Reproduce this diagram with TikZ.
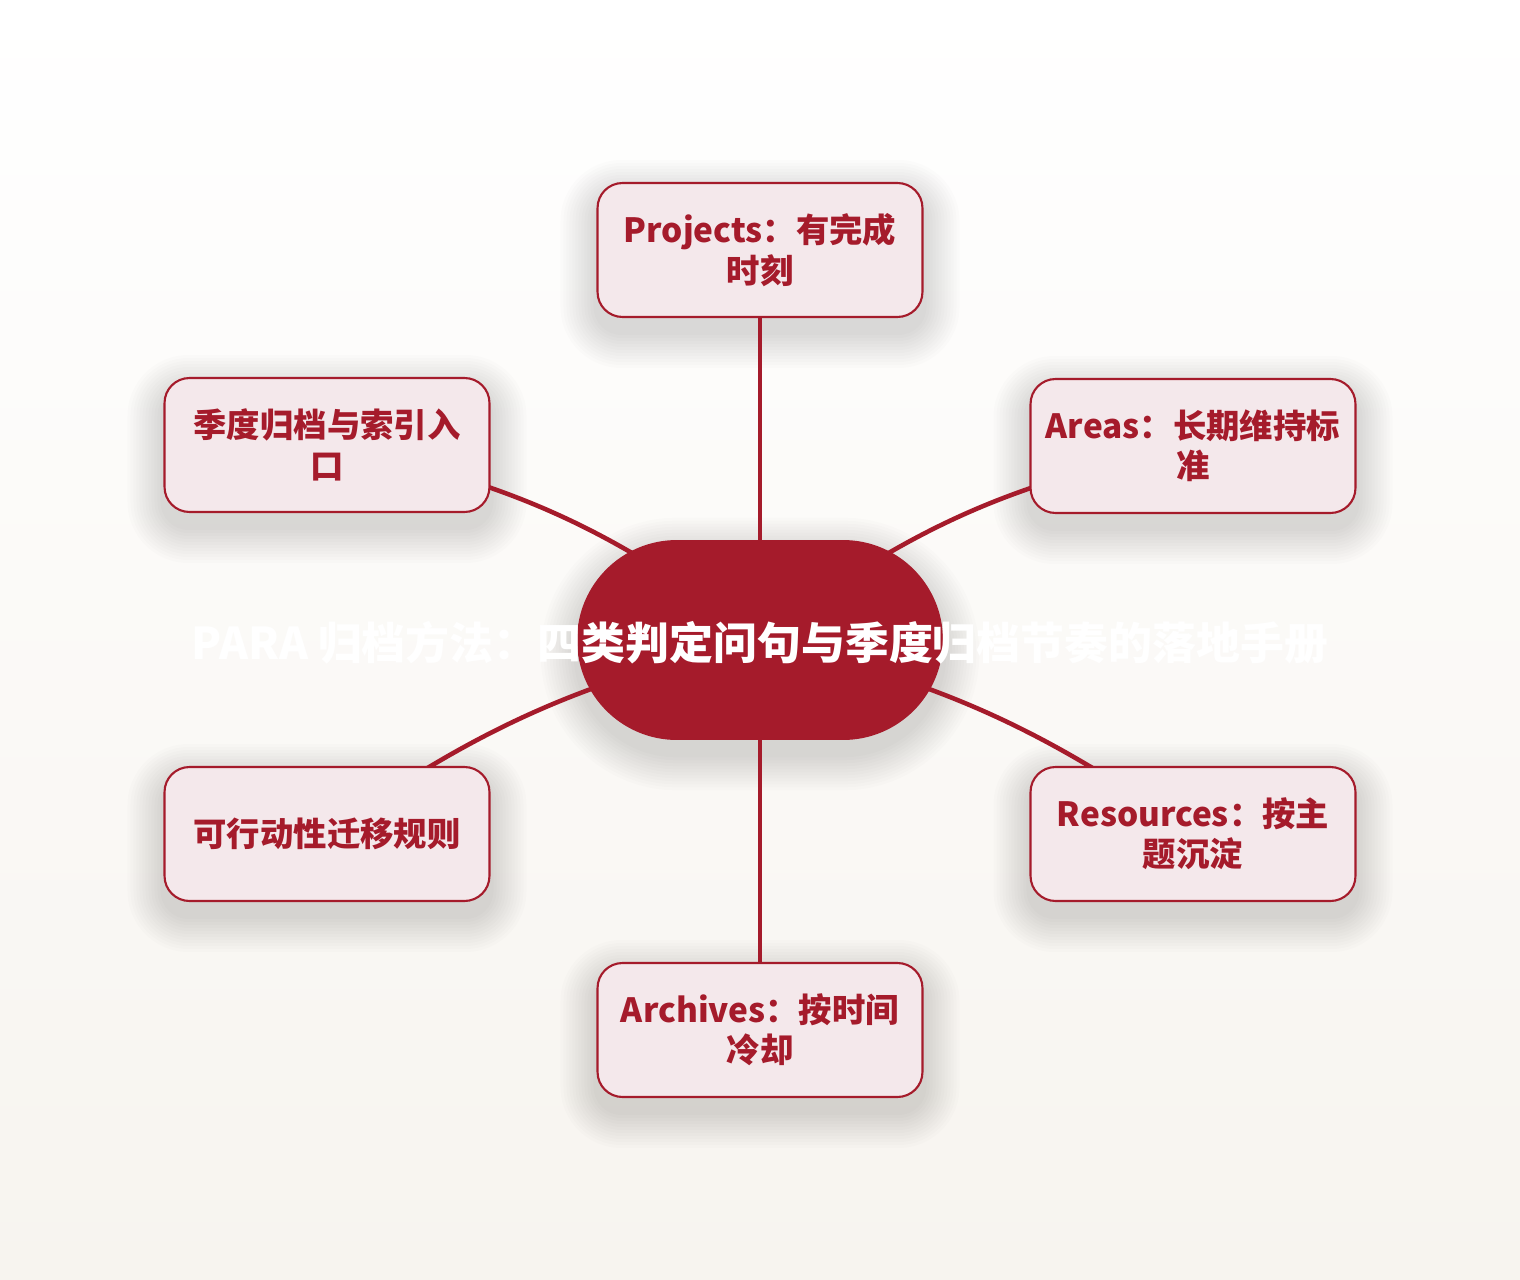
\documentclass[tikz,border=0pt]{standalone}
\usepackage{fontspec}
\newfontfamily\cjk{Noto Sans CJK SC}
\definecolor{parared}{RGB}{165,27,43}
\definecolor{parapink}{RGB}{244,232,235}
\definecolor{parabg}{RGB}{247,244,239}
\pgfdeclarelayer{back}
\pgfdeclarelayer{edges}
\pgfsetlayers{back,edges,main}
\tikzstyle{topic}=[rectangle, rounded corners=0.5cm, draw=parared, line width=1.2pt, fill=parapink, minimum width=6.5cm, minimum height=2.68cm, align=center, text=parared, font=\cjk\bfseries\fontsize{19}{23}\selectfont]
\tikzstyle{hub}=[rectangle, rounded corners=2cm, fill=parared, minimum width=7.32cm, minimum height=4cm]
\tikzstyle{link}=[draw=parared, line width=2.6pt]
\tikzstyle{haze}=[fill=black, opacity=0.013]
\newcommand{\topic}{\node[topic]}

\begin{document}
\begin{tikzpicture}[x=0.02cm, y=-0.02cm]
%background
\useasboundingbox (0,0) rectangle (1520,1280);
\begin{pgfonlayer}{back}
\shade[top color=white, bottom color=parabg] (0,0) rectangle (1520,1280);
\end{pgfonlayer}
%center
\node[hub] (hub) at (760,640){};
\node[text=white, font=\cjk\bfseries\fontsize{25}{30}\selectfont] (hubtext) at (760,643){PARA 归档方法：四类判定问句与季度归档节奏的落地手册};
%topics
\topic (proj) at (760,250){Projects：有完成\\时刻};
\topic (areas) at (1193,446){Areas：长期维持标\\准};
\topic (res) at (1193,834){Resources：按主\\题沉淀};
\topic (arch) at (760,1030){Archives：按时间\\冷却};
\topic (act) at (327,834){可行动性迁移规则};
\topic (quart) at (327,445){季度归档与索引入\\口};
%shadows
\begin{pgfonlayer}{back}
\foreach \n/\rc in {proj/0.5, areas/0.5, res/0.5, arch/0.5, act/0.5, quart/0.5, hub/2}{
	\foreach \k in {1,...,12}{
		\pgfmathsetmacro{\e}{0.06*\k}
		\pgfmathsetmacro{\r}{\rc+\e}
		\fill[haze, rounded corners=\r cm] ([xshift=-\e cm, yshift=-0.28cm+\e cm]\n.north west) rectangle ([xshift=\e cm, yshift=-0.28cm-\e cm]\n.south east);}}
\end{pgfonlayer}
%edges
\begin{pgfonlayer}{edges}
\draw[link] (hub.center) -- (proj.center);
\draw[link] (hub.center) to[bend left=13] (areas.center);
\draw[link] (hub.center) to[bend left=11] (res.center);
\draw[link] (hub.center) -- (arch.center);
\draw[link] (hub.center) to[bend right=11] (act.center);
\draw[link] (hub.center) to[bend right=13] (quart.center);
\end{pgfonlayer}
\end{tikzpicture}
\end{document}
